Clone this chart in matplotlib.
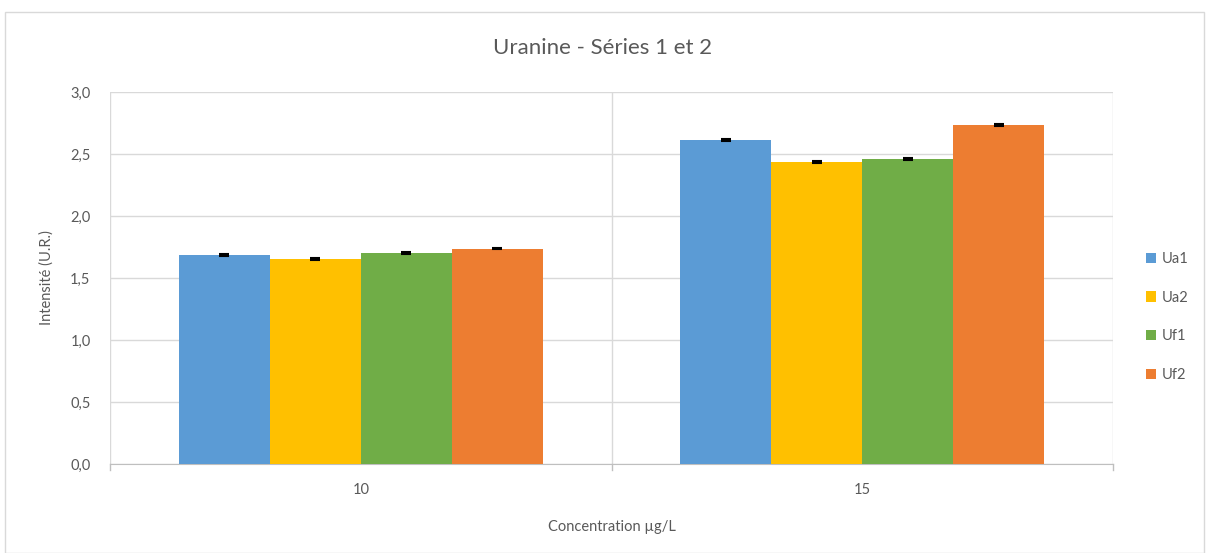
import matplotlib.pyplot as plt
import numpy as np
from matplotlib.patches import Rectangle

plt.rcParams['font.family'] = ['Lato', 'DejaVu Sans']

categories = ["10", "15"]
series = ["Ua1", "Ua2", "Uf1", "Uf2"]
values = {
    "Ua1": [1.685, 2.613],
    "Ua2": [1.653, 2.435],
    "Uf1": [1.700, 2.460],
    "Uf2": [1.734, 2.734],
}
errors = {
    "Ua1": [0.005, 0.010],
    "Ua2": [0.006, 0.006],
    "Uf1": [0.008, 0.010],
    "Uf2": [0.004, 0.005],
}
colors = ["#5B9BD5", "#FFC000", "#70AD47", "#ED7D31"]
yticks = [0.0, 0.5, 1.0, 1.5, 2.0, 2.5, 3.0]

fig = plt.figure(figsize=(12.06, 5.53), dpi=100)
fig.patches.append(Rectangle((0.004, 0.0), 0.994, 0.978, transform=fig.transFigure,
                             fill=False, edgecolor="#D9D9D9", linewidth=1.0))
ax = fig.add_axes([110 / 1206, 1 - 464 / 553, (1113 - 110) / 1206, (464 - 92) / 553])

x = np.arange(len(categories))
width = 0.1815
for i, (name, col) in enumerate(zip(series, colors)):
    offs = (i - 1.5) * width
    ax.bar(x + offs, values[name], width, color=col, label=name, zorder=3,
           yerr=errors[name], error_kw=dict(ecolor="black", capsize=3.5, capthick=1.5,
                                            elinewidth=1.0))

ax.set_xlim(-0.5, 1.5)
ax.set_ylim(0, 3.0)
ax.set_yticks(yticks)
ax.set_yticklabels([f"{v:.1f}".replace(".", ",") for v in yticks])
ax.set_xticks(x)
ax.set_xticklabels(categories)
ax.yaxis.grid(True, color="#D9D9D9", linewidth=1.0, zorder=0)
for side in ["top", "left", "right"]:
    ax.spines[side].set_visible(False)
ax.spines["bottom"].set_color("#BFBFBF")
# vertical lines at category boundaries
for b in [-0.5, 0.5, 1.5]:
    ax.axvline(b, color="#D9D9D9", linewidth=1.0, zorder=0)
    ax.plot([b, b], [0, -0.05], color="#BFBFBF", linewidth=1.0, clip_on=False)
ax.tick_params(axis="y", length=0, labelsize=10.5, colors="#595959", pad=14)
ax.tick_params(axis="x", length=0, labelsize=10.5, colors="#595959", pad=14)

ax.set_ylabel("Intensité (U.R.)", fontsize=10.5, color="#595959", labelpad=12)
ax.set_xlabel("Concentration µg/L", fontsize=10.5, color="#595959", labelpad=16)
fig.text(0.5, 1 - 48 / 553, "Uranine - Séries 1 et 2", ha="center", va="center",
         fontsize=16, color="#595959")

ax.legend(loc="center left", bbox_to_anchor=(1.02, 0.395), frameon=False,
          fontsize=10.5, labelcolor="#595959", handlelength=0.7, handleheight=0.7,
          handletextpad=0.4, labelspacing=1.7)

fig.savefig("out.png", dpi=100)
